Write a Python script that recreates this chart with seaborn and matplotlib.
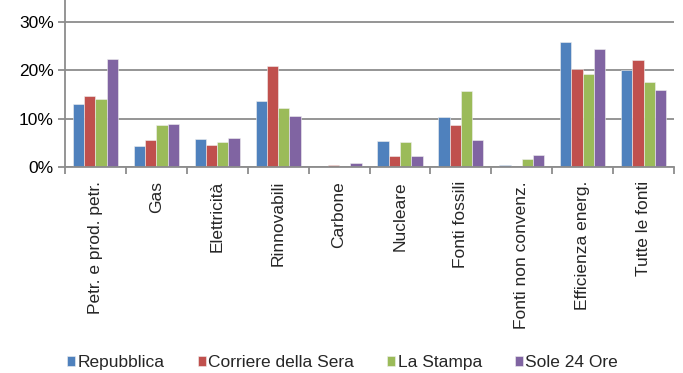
import matplotlib
matplotlib.use('Agg')
import matplotlib.pyplot as plt
import seaborn as sns
import pandas as pd
import numpy as np
from matplotlib.ticker import PercentFormatter, FixedLocator

categories = ['Petr. e prod. petr.', 'Gas', 'Elettricità', 'Rinnovabili', 'Carbone',
              'Nucleare', 'Fonti fossili', 'Fonti non convenz.', 'Efficienza energ.',
              'Tutte le fonti']
papers = ['Repubblica', 'Corriere della Sera', 'La Stampa', 'Sole 24 Ore']

repubblica = [13.1, 4.3, 5.9, 13.7, 0.0, 5.4, 10.4, 0.4, 25.9, 20.0]
corriere = [14.7, 5.5, 4.5, 20.8, 0.4, 2.2, 8.7, 0.0, 20.3, 22.2]
stampa = [14.0, 8.7, 5.2, 12.1, 0.0, 5.2, 15.7, 1.7, 19.3, 17.5]
sole = [22.4, 8.8, 6.1, 10.6, 0.9, 2.2, 5.6, 2.4, 24.3, 15.9]

colors = ['#4F81BD', '#C0504D', '#9BBB59', '#8064A2']

rows = []
for paper, vals in zip(papers, [repubblica, corriere, stampa, sole]):
    for c, v in zip(categories, vals):
        rows.append({'cat': c, 'val': v, 'paper': paper})
df = pd.DataFrame(rows)

sns.set_style('white')
plt.rcParams['font.family'] = ['Liberation Sans', 'DejaVu Sans']

fig = plt.figure(figsize=(6.83, 3.73), dpi=100)
ax = fig.add_axes([0.095, 0.552, 0.892, 0.448])

sns.barplot(data=df, x='cat', y='val', hue='paper', palette=colors, saturation=1,
            width=0.74, gap=0, edgecolor='#f0f0f0', linewidth=0.4, ax=ax)

ax.set_ylim(0, 34.5)
ax.set_xlim(-0.5, len(categories) - 0.5)
ax.set_yticks([0, 10, 20, 30])
ax.yaxis.set_major_formatter(PercentFormatter(100, decimals=0))
ax.grid(axis='y', color='#8c8c8c', linewidth=1.3)
ax.set_axisbelow(True)
ax.set_xlabel('')
ax.set_ylabel('')

for s in ['top', 'right']:
    ax.spines[s].set_visible(False)
ax.spines['left'].set_color('#8c8c8c')
ax.spines['bottom'].set_color('#8c8c8c')
ax.spines['left'].set_linewidth(1.3)
ax.spines['bottom'].set_linewidth(1.3)

ax.tick_params(axis='y', length=5, width=1.3, color='#8c8c8c', labelsize=12.5,
               pad=3, labelcolor='black', left=True)
ax.tick_params(axis='x', which='major', length=0, labelsize=12.5, pad=10)
ax.set_xticks(range(len(categories)))
ax.set_xticklabels(categories, rotation=90, va='top', ha='center')
ax.xaxis.set_minor_locator(FixedLocator(np.arange(-0.5, len(categories), 1.0)))
ax.tick_params(axis='x', which='minor', length=5, width=1.3, color='#8c8c8c', bottom=True)

handles, labels = ax.get_legend_handles_labels()
ax.legend(handles, labels, loc='center', bbox_to_anchor=(0.456, -1.17),
          ncol=4, frameon=False, fontsize=12.5, handlelength=0.45, handleheight=0.45,
          handletextpad=0.15, columnspacing=1.9)

fig.savefig('out.png', dpi=100)
